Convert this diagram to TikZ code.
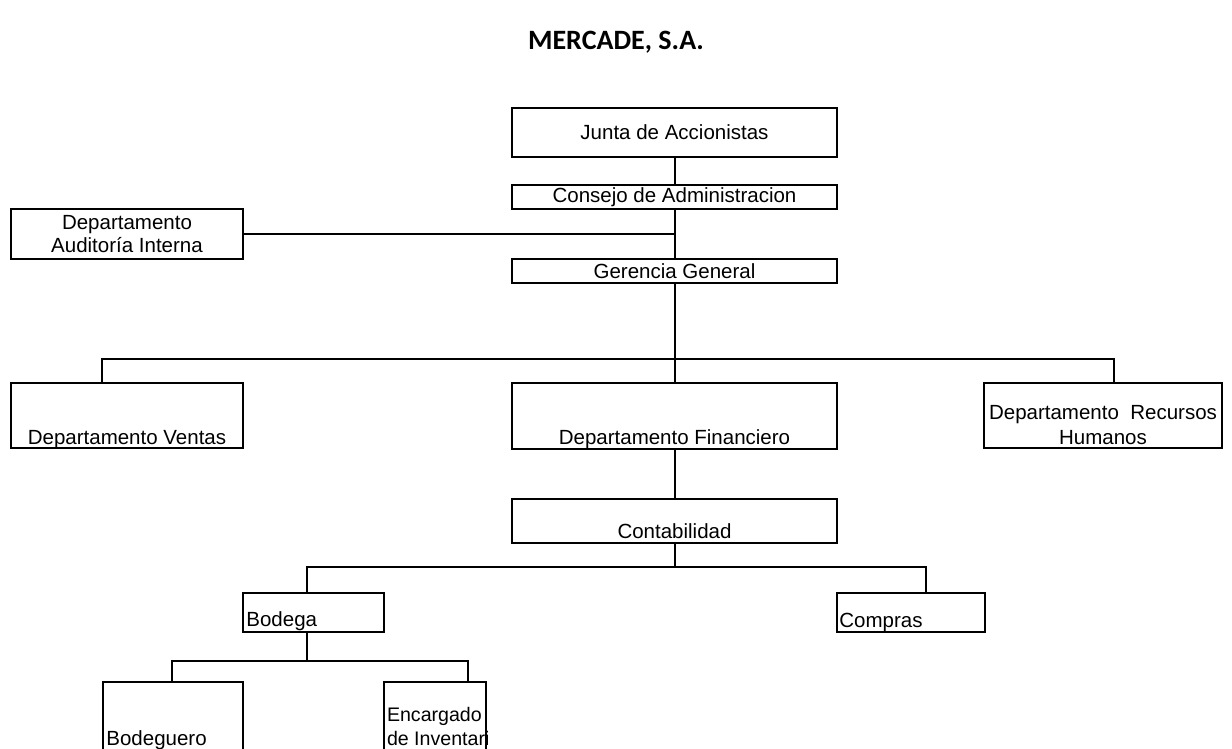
\documentclass[tikz,border=0pt]{standalone}
\usepackage{fontspec}
\setmainfont{Liberation Sans}
\newfontfamily\titlefont{Carlito}

\tikzset{
  caja/.style={draw, line width=1pt, inner sep=0pt, align=center, font=\fontsize{10.25}{11.5}\selectfont},
  rotulo/.style={inner sep=0pt, font=\fontsize{10.25}{12.5}\selectfont},
  linea/.style={line width=1pt}
}

\begin{document}
\begin{tikzpicture}[x=0.5pt, y=-0.5pt]
	\useasboundingbox (0,0) rectangle (1232,749);
	\node[font=\titlefont\bfseries\fontsize{14}{16}\selectfont] (titulo) at (616,42) {MERCADE, S.A.};

	% direccion
	\node[caja, minimum width=162.5pt, minimum height=24.5pt] (junta) at (674.5,132.5) {Junta de Accionistas};
	\node[caja, minimum width=162.5pt, minimum height=12pt] (consejo) at (674.5,197) {Consejo de Administracion};
	\node[caja, minimum width=116pt, minimum height=25pt] (auditoria) at (127,234) {Departamento\\Auditoría Interna};
	\node[caja, minimum width=162.5pt, minimum height=12pt] (gerencia) at (674.5,271) {Gerencia General};

	% departamentos
	\node[caja, minimum width=116pt, minimum height=32.5pt, label={[rotulo, anchor=base, yshift=2.5pt]south:Departamento Ventas}] (ventas) at (127,415.5) {};
	\node[caja, minimum width=162.5pt, minimum height=33pt, label={[rotulo, anchor=base, yshift=3pt]south:Departamento Financiero}] (financiero) at (674.5,416) {};
	\node[caja, minimum width=119pt, minimum height=32.5pt, label={[rotulo, align=center, anchor=south, yshift=2pt]south:Departamento\ \ Recursos\\Humanos}] (rrhh) at (1103,415.5) {};
	\node[caja, minimum width=162.5pt, minimum height=22pt, label={[rotulo, anchor=base, yshift=3pt]south:Contabilidad}] (contabilidad) at (674.5,521) {};

	% secciones
	\node[caja, minimum width=70.5pt, minimum height=19.5pt, label={[rotulo, anchor=base west, xshift=2pt, yshift=3.5pt]south west:Bodega}] (bodega) at (313.5,612.5) {};
	\node[caja, minimum width=74pt, minimum height=19.5pt, label={[rotulo, anchor=base west, xshift=1.5pt, yshift=3pt]south west:Compras}] (compras) at (911,612.5) {};
	\node[caja, minimum width=70pt, minimum height=39pt, label={[rotulo, anchor=base west, xshift=2pt, yshift=8pt]south west:Bodeguero}] (bodeguero) at (173,721) {};
	\begin{scope}
		\clip (380,670) rectangle (487,760);
		\node[caja, minimum width=51pt, minimum height=39pt, label={[rotulo, font=\fontsize{9.8}{12}\selectfont, align=left, anchor=south west, xshift=1.8pt, yshift=7.5pt]south west:Encargado\\de Inventario}] (encargado) at (435,721) {};
	\end{scope}

	\coordinate (busL) at (102,359);
	\coordinate (busR) at (1114,359);
	\coordinate (contL) at (307,567);
	\coordinate (contR) at (926,567);
	\coordinate (bodL) at (172,661);
	\coordinate (bodR) at (468,661);

	\draw[linea] (junta.south) -- (consejo.north);
	\draw[linea] (consejo.south) -- (gerencia.north);
	\draw[linea] (auditoria.east) -- (auditoria.east -| consejo.south);
	\draw[linea] (gerencia.south) -- (financiero.north);
	\draw[linea] (ventas.north -| busL) -- (busL) -- (busR) -- (rrhh.north -| busR);
	\draw[linea] (financiero.south) -- (contabilidad.north);
	\draw[linea] (contabilidad.south) -- (contabilidad.south |- contL);
	\draw[linea] (bodega.north -| contL) -- (contL) -- (contR) -- (compras.north -| contR);
	\draw[linea] (bodega.south -| contL) -- (contL |- bodL);
	\draw[linea] (bodeguero.north -| bodL) -- (bodL) -- (bodR) -- (encargado.north -| bodR);
\end{tikzpicture}
\end{document}
